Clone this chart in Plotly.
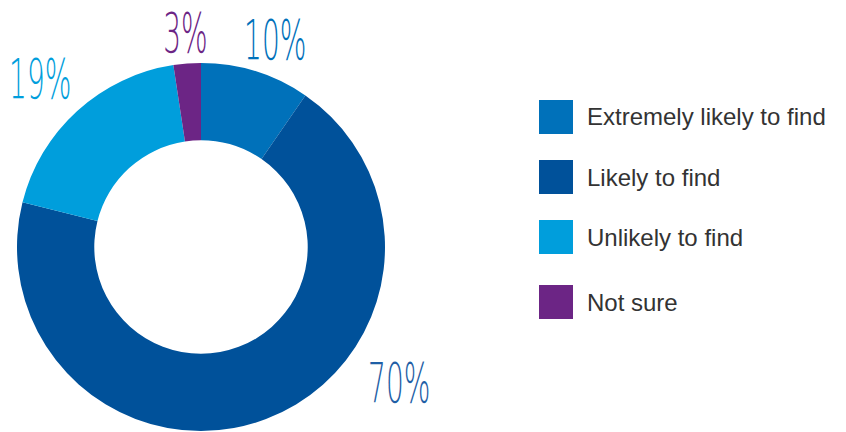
import math
import plotly.graph_objects as go

categories = ["Extremely likely to find", "Likely to find", "Unlikely to find", "Not sure"]
values = [9.6, 69.3, 18.7, 2.4]
pct_labels = ["10%", "70%", "19%", "3%"]
colors = ["#0071BA", "#00519A", "#009EDC", "#6C2585"]

W, H = 846, 432
cx, cy, R = 201, 247, 184  # pixel geometry (layout)

fig = go.Figure(go.Pie(
    labels=categories, values=values, sort=False, direction="clockwise", rotation=0,
    hole=0.58, marker=dict(colors=colors, line=dict(width=0)),
    textinfo="none", hoverinfo="label+percent", showlegend=False,
    domain=dict(x=[(cx - R) / W, (cx + R) / W], y=[(H - cy - R) / H, (H - cy + R) / H]),
))

label_angle_shift = [2.5, -35, -1.5, 0.3]
label_radius = [220, 240, 233, 215]
total = sum(values)
cum = 0
annotations = []
for i, v in enumerate(values):
    mid = (cum + v / 2) / total * 360 + label_angle_shift[i]
    cum += v
    a = math.radians(mid)
    px = cx + label_radius[i] * math.sin(a)
    py = cy - label_radius[i] * math.cos(a)
    annotations.append(dict(
        x=px / W, y=1 - py / H, xref="paper", yref="paper", text=pct_labels[i],
        showarrow=False, xanchor="center", yanchor="middle",
        font=dict(family="DejaVu Sans", size=56,
                  color=colors[i] if i != 1 else "#1F5FA6", weight=200),
    ))

leg_y = [117, 177, 237, 302]
sq = 34
shapes = []
for i, name in enumerate(categories):
    shapes.append(dict(type="rect", xref="paper", yref="paper",
                       x0=539 / W, x1=(539 + sq) / W,
                       y0=1 - (leg_y[i] + sq / 2) / H, y1=1 - (leg_y[i] - sq / 2) / H,
                       fillcolor=colors[i], line=dict(width=0)))
    annotations.append(dict(x=585 / W, y=1 - leg_y[i] / H, xref="paper", yref="paper",
                            text=name, showarrow=False, xanchor="left", yanchor="middle",
                            font=dict(family="Liberation Sans, Arial", size=24, color="#333333")))

fig.update_layout(width=W, height=H, margin=dict(l=0, r=0, t=0, b=0),
                  paper_bgcolor="white", plot_bgcolor="white",
                  annotations=annotations, shapes=shapes)

post = """
document.body.style.margin='0';
var anns = document.querySelectorAll('g.annotation text');
for (var i = 0; i < 4 && i < anns.length; i++) {
  var el = anns[i];
  var bb = el.getBBox();
  var c = bb.x + bb.width / 2;
  var prev = el.getAttribute('transform') || '';
  el.setAttribute('transform', prev + ' translate(' + c + ',0) scale(0.5,1) translate(' + (-c) + ',0)');
}
"""
fig.write_html("out.html", post_script=post, config={"displayModeBar": False})
